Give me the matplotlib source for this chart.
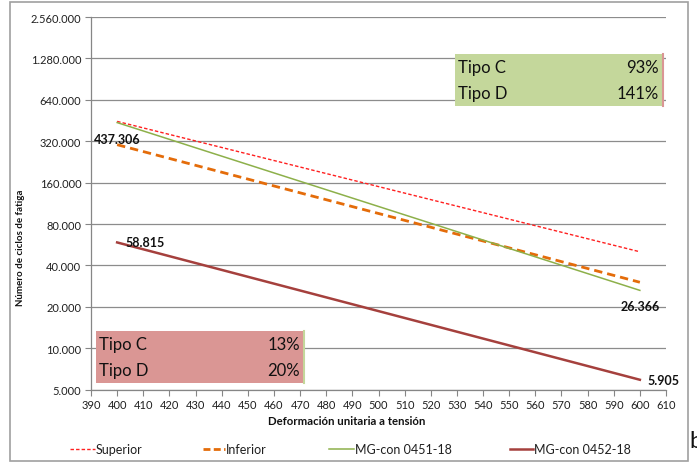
import matplotlib
matplotlib.use("Agg")
import matplotlib.pyplot as plt
from matplotlib.lines import Line2D
from matplotlib.patches import Rectangle
from matplotlib.ticker import FixedLocator, NullLocator

plt.rcParams['font.family'] = ['Lato', 'DejaVu Sans']

x = [400, 600]
superior = [446000, 50300]
inferior = [302000, 30200]
mg0451 = [437306, 26366]
mg0452 = [58815, 5905]

y_ticks = [5000, 10000, 20000, 40000, 80000, 160000, 320000, 640000, 1280000, 2560000]
y_tick_labels = ['5.000', '10.000', '20.000', '40.000', '80.000', '160.000',
                 '320.000', '640.000', '1.280.000', '2.560.000']
x_ticks = list(range(390, 611, 10))

green_table = [('Tipo C', '93%'), ('Tipo D', '141%')]
red_table = [('Tipo C', '13%'), ('Tipo D', '20%')]

W, H = 697, 464
fig = plt.figure(figsize=(W / 100, H / 100), dpi=100)

def fx(px):
    return px / W

def fy(py):
    return 1 - py / H

ax = fig.add_axes([fx(91), fy(390.7), fx(666) - fx(91), fy(18) - fy(390.7)])
ax.set_yscale('log')
ax.set_ylim(5000, 2560000)
ax.set_xlim(390, 610)

c_sup = '#FF2020'
c_inf = '#E46C0A'
c_g = '#8DB04A'
c_r = '#A5403D'

ax.plot(x, superior, color=c_sup, lw=1.0, dashes=(2.5, 1.5), label='Superior')
ax.plot(x, inferior, color=c_inf, lw=2.0, dashes=(3, 1.8), label='Inferior')
ax.plot(x, mg0451, color=c_g, lw=1.1, label='MG-con 0451-18')
ax.plot(x, mg0452, color=c_r, lw=1.8, label='MG-con 0452-18')

ax.yaxis.set_major_locator(FixedLocator(y_ticks))
ax.yaxis.set_minor_locator(NullLocator())
ax.set_yticklabels(y_tick_labels)
ax.set_xticks(x_ticks)
ax.set_xticklabels([str(t) for t in x_ticks])
ax.tick_params(axis='both', labelsize=8, length=4, width=0.8,
               color='#868686', pad=3, labelcolor='#202020')
ax.grid(axis='y', color='#8C8C8C', lw=0.9)
ax.set_axisbelow(True)
for s in ['top', 'right']:
    ax.spines[s].set_visible(False)
for s in ['left', 'bottom']:
    ax.spines[s].set_color('#868686')
    ax.spines[s].set_linewidth(0.9)

def fmt(v):
    return f'{v:,}'.replace(',', '.')

lab_kw = dict(fontsize=9, fontweight='bold', color='#111111')
ax.annotate(fmt(mg0451[0]), (x[0], mg0451[0]), xytext=(0, -11.5),
            textcoords='offset points', ha='center', va='center', **lab_kw)
ax.annotate(fmt(mg0452[0]), (x[0], mg0452[0]), xytext=(20, 0),
            textcoords='offset points', ha='center', va='center', **lab_kw)
ax.annotate(fmt(mg0451[1]), (x[1], mg0451[1]), xytext=(0, -11.5),
            textcoords='offset points', ha='center', va='center', **lab_kw)
ax.annotate(fmt(mg0452[1]), (x[1], mg0452[1]), xytext=(17, 0),
            textcoords='offset points', ha='center', va='center', **lab_kw)

fig.text(fx(347), fy(422), 'Deformación unitaria a tensión', ha='center', va='center',
         fontsize=8.2, fontweight='bold', color='#111111')
fig.text(fx(21), fy(248), 'Número de ciclos de fatiga', ha='center', va='center',
         rotation=90, fontsize=7, fontweight='bold', color='#111111')

# Tables
def table(x0, x1, y0, y1, bg, edge, rows):
    fig.patches.append(Rectangle((fx(x0), fy(y1)), fx(x1) - fx(x0), fy(y0) - fy(y1),
                                 transform=fig.transFigure, facecolor=bg, edgecolor='none'))
    fig.lines.append(Line2D([fx(x1), fx(x1)], [fy(y0), fy(y1)], transform=fig.transFigure,
                            color=edge, lw=1.5))
    rh = (y1 - y0) / len(rows)
    for i, (a, b) in enumerate(rows):
        yc = y0 + rh * (i + 0.5)
        fig.text(fx(x0 + 3), fy(yc), a, ha='left', va='center', fontsize=12, color='#111111')
        fig.text(fx(x1 - 4), fy(yc), b, ha='right', va='center', fontsize=12, color='#111111')

table(455, 663, 55, 107, '#C4D79B', '#DA9694', green_table)
table(96, 304, 332, 384, '#DA9694', '#C4D79B', red_table)

# Legend
leg = [(70, 95, 'Superior', c_sup, 1.0, (2.5, 1.5)),
       (203, 225, 'Inferior', c_inf, 2.0, (2.5, 1.2)),
       (329, 354, 'MG-con 0451-18', c_g, 1.1, None),
       (510, 533, 'MG-con 0452-18', c_r, 1.8, None)]
for a, b, t, c, lw, d in leg:
    ln = Line2D([fx(a), fx(b)], [fy(450), fy(450)], transform=fig.transFigure, color=c, lw=lw)
    if d:
        ln.set_dashes(d)
    fig.lines.append(ln)
    fig.text(fx(b + 1), fy(450), t, ha='left', va='center', fontsize=9, color='#202020')

# Outer border
fig.patches.append(Rectangle((fx(10), fy(462)), fx(688) - fx(10), fy(3) - fy(462),
                             transform=fig.transFigure, facecolor='none',
                             edgecolor='#A0A0A0', lw=1.2))
fig.text(fx(689), fy(441), 'b', ha='left', va='center', fontsize=17, color='#111111')

fig.savefig('out.png', dpi=100)
